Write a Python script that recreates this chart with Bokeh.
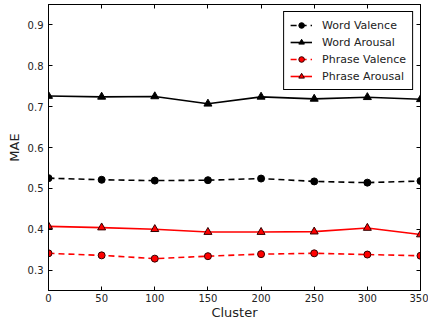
from bokeh.plotting import figure
from bokeh.models import (LinearAxis, FixedTicker, Range1d, Legend, LegendItem,
                          CustomLabelingPolicy)
from bokeh.embed import file_html
from bokeh.resources import INLINE

clusters = [0, 50, 100, 150, 200, 250, 300, 350]
word_valence = [0.525, 0.521, 0.519, 0.520, 0.524, 0.517, 0.514, 0.518]
word_arousal = [0.726, 0.724, 0.725, 0.707, 0.724, 0.719, 0.723, 0.718]
phrase_valence = [0.341, 0.336, 0.328, 0.334, 0.339, 0.341, 0.338, 0.335]
phrase_arousal = [0.407, 0.404, 0.400, 0.393, 0.393, 0.394, 0.403, 0.387]
x_ticks = [0, 50, 100, 150, 200, 250, 300, 350]
y_ticks = [0.3, 0.4, 0.5, 0.6, 0.7, 0.8, 0.9]

FONT = "DejaVu Sans"

p = figure(width=428, height=322, output_backend="svg", toolbar_location=None,
           x_range=Range1d(0, 350), y_range=Range1d(0.25, 0.95),
           min_border_left=48, min_border_right=8, min_border_top=0, min_border_bottom=0)
p.xgrid.visible = False
p.ygrid.visible = False
p.outline_line_color = "black"
p.outline_line_width = 1
p.background_fill_color = "white"
p.border_fill_color = "white"

for ax in (p.xaxis[0], p.yaxis[0]):
    ax.major_tick_in = 4
    ax.major_tick_out = 0
    ax.minor_tick_line_color = None
    ax.axis_line_color = "black"
    ax.major_label_text_font = FONT
    ax.major_label_text_font_size = "10px"
    ax.major_label_text_color = "#222222"
    ax.axis_label_text_font = FONT
    ax.axis_label_text_font_size = "13px"
    ax.axis_label_text_font_style = "normal"
    ax.axis_label_text_color = "#222222"
p.xaxis[0].major_label_standoff = 3
p.xaxis[0].axis_label_standoff = 0
p.yaxis[0].major_label_standoff = 5
p.yaxis[0].axis_label_standoff = 3
p.xaxis[0].ticker = FixedTicker(ticks=x_ticks)
p.yaxis[0].ticker = FixedTicker(ticks=y_ticks)
p.xaxis[0].axis_label = "Cluster"
p.yaxis[0].axis_label = "MAE"

top = LinearAxis(ticker=FixedTicker(ticks=x_ticks), major_tick_in=4, major_tick_out=0,
                 minor_tick_line_color=None, major_label_text_font_size="1px",
                 major_label_standoff=0, axis_line_color="black",
                 major_label_policy=CustomLabelingPolicy(code="if (false) { yield 0 }"))
right = LinearAxis(ticker=FixedTicker(ticks=y_ticks), major_tick_in=4, major_tick_out=0,
                   minor_tick_line_color=None, major_label_text_font_size="1px",
                   major_label_standoff=0, axis_line_color="black",
                   major_label_policy=CustomLabelingPolicy(code="if (false) { yield 0 }"))
p.add_layout(top, "above")
p.add_layout(right, "right")

lw = 1.6
r1 = p.line(clusters, word_valence, line_color="black", line_width=lw, line_dash="6 4")
m1 = p.scatter(clusters, word_valence, marker="circle", size=7, fill_color="black", line_color="black")
r2 = p.line(clusters, word_arousal, line_color="black", line_width=lw)
m2 = p.scatter(clusters, word_arousal, marker="triangle", size=8, fill_color="black", line_color="black")
r3 = p.line(clusters, phrase_valence, line_color="red", line_width=lw, line_dash="6 4")
m3 = p.scatter(clusters, phrase_valence, marker="circle", size=7, fill_color="red", line_color="#330000")
r4 = p.line(clusters, phrase_arousal, line_color="red", line_width=lw)
m4 = p.scatter(clusters, phrase_arousal, marker="triangle", size=8, fill_color="red", line_color="#330000")

legend = Legend(items=[
    LegendItem(label="Word Valence", renderers=[r1, m1]),
    LegendItem(label="Word Arousal", renderers=[r2, m2]),
    LegendItem(label="Phrase Valence", renderers=[r3, m3]),
    LegendItem(label="Phrase Arousal", renderers=[r4, m4]),
], location="top_right")
legend.label_text_font = FONT
legend.label_text_font_size = "11px"
legend.label_text_color = "#222222"
legend.border_line_color = "black"
legend.border_line_width = 1
legend.border_line_alpha = 1
legend.background_fill_alpha = 1
legend.glyph_height = 14
legend.glyph_width = 22
legend.label_height = 14
legend.spacing = 3
legend.padding = 6
legend.margin = 7
legend.label_standoff = 10
p.add_layout(legend, "center")

open("out.html", "w").write(file_html(p, INLINE))
